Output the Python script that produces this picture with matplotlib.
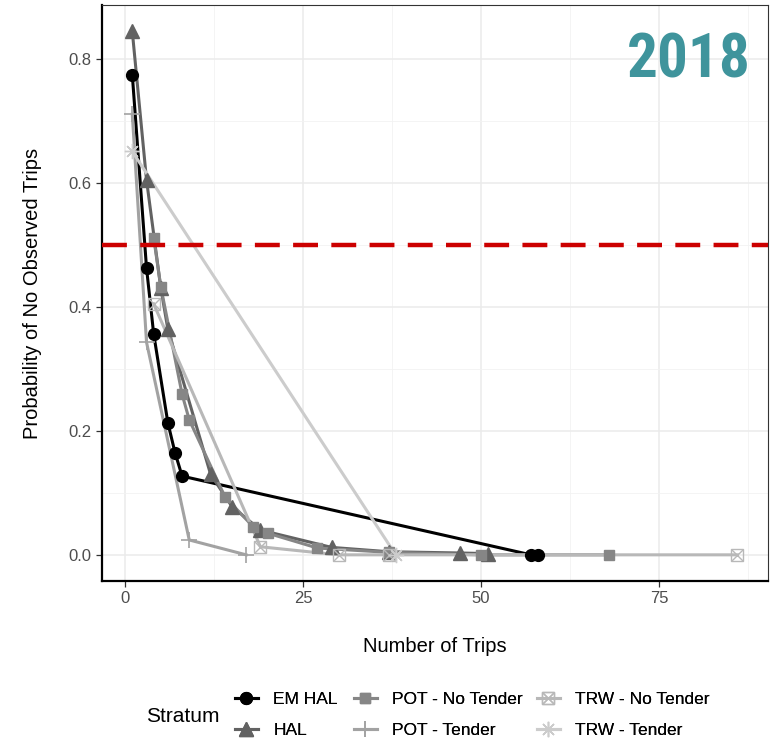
import matplotlib.pyplot as plt
from matplotlib.legend_handler import HandlerTuple
import numpy as np

plt.rcParams['font.family'] = ['Liberation Sans', 'DejaVu Sans']

# stratum data
strata = ['EM HAL', 'HAL', 'POT - No Tender', 'POT - Tender', 'TRW - No Tender', 'TRW - Tender']

em_hal_x = [1, 3, 4, 6, 7, 8, 57, 58]
em_hal_y = [0.775, 0.463, 0.357, 0.213, 0.165, 0.127, 0.0, 0.0]

hal_x = [1, 3, 5, 6, 12, 15, 19, 29, 37, 47, 51]
hal_y = [0.845, 0.605, 0.431, 0.364, 0.130, 0.078, 0.040, 0.012, 0.005, 0.003, 0.002]

pot_nt_x = [4, 5, 8, 9, 14, 18, 20, 27, 37, 50, 68]
pot_nt_y = [0.512, 0.433, 0.259, 0.218, 0.094, 0.045, 0.035, 0.011, 0.004, 0.0, 0.0]

pot_t_x = [1, 3, 9, 17]
pot_t_y = [0.711, 0.343, 0.024, 0.0]

trw_nt_x = [4, 19, 30, 37, 86]
trw_nt_y = [0.405, 0.013, 0.0, 0.0, 0.0]

trw_t_x = [1, 38]
trw_t_y = [0.651, 0.0]

xs = [em_hal_x, hal_x, pot_nt_x, pot_t_x, trw_nt_x, trw_t_x]
ys = [em_hal_y, hal_y, pot_nt_y, pot_t_y, trw_nt_y, trw_t_y]
colors = ['#000000', '#626262', '#868686', '#a2a2a2', '#b8b8b8', '#cccccc']

fig = plt.figure(figsize=(7.7, 7.41), dpi=100)
ax = fig.add_axes([0.1325, 0.2159, 0.8645, 0.7773])

# lines first, then points (like ggplot layer order)
for i in range(len(strata)):
    ax.plot(xs[i], ys[i], color=colors[i], lw=2.2, zorder=2)

# marker style per stratum
mk = [
    dict(marker='o', ms=8.5),
    dict(marker='^', ms=10),
    dict(marker='s', ms=7.5),
    dict(marker='+', ms=12, mew=1.2),
    dict(marker='s', ms=8.5, mfc='none', mew=1.0),
    dict(marker=(8, 2, 0), ms=11, mew=1.0),
]

handles = []
for i in range(len(strata)):
    ax.plot(xs[i], ys[i], ls='none', color=colors[i], zorder=3, **mk[i])
    h = ax.plot([], [], color=colors[i], lw=2.2, **mk[i])[0]
    if i == 4:
        ax.plot(xs[i], ys[i], ls='none', marker='x', ms=8.5, mew=1.0, color=colors[i], zorder=3)
        hx = ax.plot([], [], ls='none', marker='x', ms=8.5, mew=1.0, color=colors[i])[0]
        h = (h, hx)
    handles.append(h)

ax.axhline(0.5, color='#cc0000', lw=3.2, dashes=(5.6, 3.0), zorder=4)

ax.set_xlim(-3.25, 90.25)
ax.set_ylim(-0.04225, 0.88725)
ax.set_xticks([0, 25, 50, 75])
ax.set_yticks([0.0, 0.2, 0.4, 0.6, 0.8])
ax.set_yticklabels(['0.0', '0.2', '0.4', '0.6', '0.8'])
ax.set_xticks([12.5, 37.5, 62.5, 87.5], minor=True)
ax.set_yticks([0.1, 0.3, 0.5, 0.7], minor=True)
ax.grid(True, which='major', color='#ebebeb', lw=1.1, zorder=0)
ax.grid(True, which='minor', color='#f2f2f2', lw=0.6, zorder=0)
ax.set_axisbelow(True)
ax.tick_params(which='major', length=4, width=0.9, color='#333333', labelcolor='#4d4d4d', labelsize=12)
ax.tick_params(which='minor', length=0)

for s in ['top', 'right']:
    ax.spines[s].set_color('#333333')
    ax.spines[s].set_linewidth(0.8)
for s in ['left', 'bottom']:
    ax.spines[s].set_color('black')
    ax.spines[s].set_linewidth(1.6)

ax.set_xlabel('Number of Trips', fontsize=14.5, labelpad=22)
ax.set_ylabel('Probability of No Observed Trips', fontsize=14.5, labelpad=19)

fig.text(751 / 770, 1 - 31 / 741, '2018', ha='right', va='top',
         fontsize=44, fontweight='bold', color='#3f949c',
         family=['Roboto Condensed', 'Liberation Sans Narrow', 'Liberation Sans'])

fig.text(146 / 770, 1 - 716 / 741, 'Stratum', fontsize=15, va='center')

# one legend per column, filled column-wise like ggplot
col_x = [235, 354, 537]
for c in range(3):
    leg = fig.legend(handles[2 * c:2 * c + 2], strata[2 * c:2 * c + 2], loc='center left',
                     bbox_to_anchor=(col_x[c] / 770, 1 - 715 / 741), frameon=False,
                     fontsize=12.5, handlelength=1.3, handletextpad=0.9,
                     labelspacing=0.95, borderpad=0, borderaxespad=0,
                     handler_map={tuple: HandlerTuple(ndivide=1)})
    fig.add_artist(leg)

fig.savefig('out.png', dpi=100)
